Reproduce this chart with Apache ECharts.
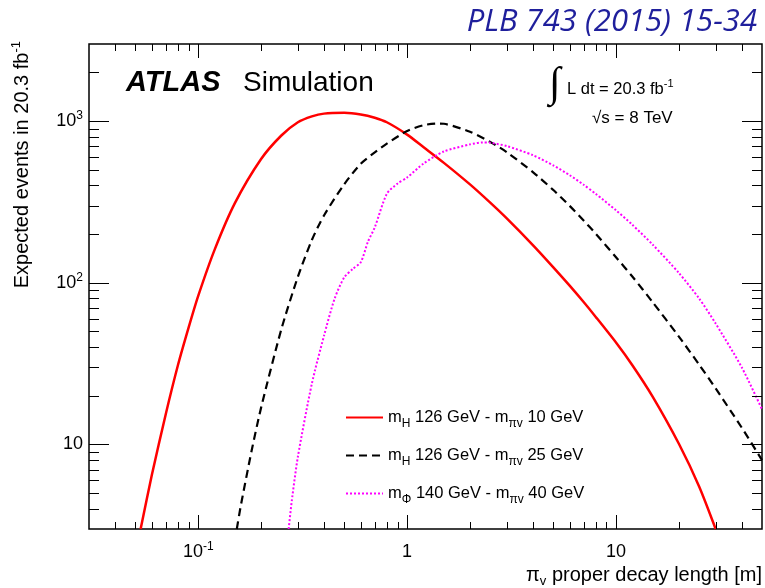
<!DOCTYPE html>
<html>
<head>
<meta charset="utf-8">
<script src="https://cdn.jsdelivr.net/npm/echarts@6/dist/echarts.min.js"></script>
<style>
  html, body { margin: 0; padding: 0; background: #fff; }
  #chart { width: 765px; height: 588px; }
</style>
</head>
<body>
<div id="chart"></div>
<script>
// Expected events vs. proper decay length for the three benchmark samples
const xH10 = [0.053, 0.06, 0.07, 0.08, 0.09, 0.1, 0.12, 0.15, 0.2, 0.25, 0.3, 0.35, 0.4, 0.5, 0.6, 0.7, 0.8, 1.0, 1.2, 1.5, 2, 2.5, 3, 4, 5, 6, 7, 8, 10, 12, 15, 20, 25, 30];
const yH10 = [3, 6.5, 15.5, 31, 53, 83, 161, 312, 583, 815, 984, 1070, 1113, 1125, 1100, 1050, 984, 825, 689, 552, 406, 313, 250, 171, 125, 96, 76, 61.5, 42.7, 30.8, 19.7, 10.1, 5.5, 3];

const xH25 = [0.153, 0.16, 0.18, 0.2, 0.25, 0.3, 0.35, 0.4, 0.5, 0.6, 0.7, 0.8, 1.0, 1.2, 1.4, 1.5, 2, 2.5, 3, 4, 5, 6, 7, 8, 10, 12, 15, 20, 25, 30, 40, 50];
const yH25 = [3, 4.2, 9.1, 16.9, 51.6, 109, 184, 261, 407, 545, 640, 726, 868, 944, 966, 963, 859, 743, 643, 484, 376, 299, 243, 201, 144, 109, 75.7, 46.5, 31.2, 22.2, 12.7, 8.0];

const xPhi40 = [0.271, 0.28, 0.3, 0.35, 0.4, 0.45, 0.5, 0.55, 0.6, 0.65, 0.7, 0.8, 0.9, 1.0, 1.2, 1.5, 2, 2.3, 2.5, 3, 4, 5, 6, 7, 8, 10, 12, 15, 20, 25, 30, 40, 50];
const yPhi40 = [3, 4.4, 8.4, 23.8, 47, 80, 108, 122, 134, 180, 220, 356, 411, 448, 547, 649, 718, 738, 735, 701, 616, 533, 463, 404, 355, 281, 228, 172, 115, 80, 56, 30, 16.5];

const seriesNames = [
  'm{sub|H} 126 GeV - m{sub|πv} 10 GeV',
  'm{sub|H} 126 GeV - m{sub|πv} 25 GeV',
  'm{sub|Φ} 140 GeV - m{sub|πv} 40 GeV'
];

// axis ranges and tick values
const xRange = [0.03, 50];
const yRange = [3, 3000];
const xMajor = [0.1, 1, 10];
const xMajorText = ['10{sup|-1}', '1', '10'];
const yMajor = [10, 100, 1000];
const yMajorText = ['10', '10{sup|2}', '10{sup|3}'];
const xMinor = [0.04, 0.05, 0.06, 0.07, 0.08, 0.09, 0.2, 0.3, 0.4, 0.5, 0.6, 0.7, 0.8, 0.9, 2, 3, 4, 5, 6, 7, 8, 9, 20, 30, 40];
const yMinor = [4, 5, 6, 7, 8, 9, 20, 30, 40, 50, 60, 70, 80, 90, 200, 300, 400, 500, 600, 700, 800, 900, 2000];

const FONT = '"Liberation Sans", Arial, Helvetica, sans-serif';

function zip(xs, ys) { return xs.map((x, i) => [x, ys[i]]); }

function majorLabel(values, texts) {
  return function (v) {
    for (let i = 0; i < values.length; i++) {
      if (Math.abs(v / values[i] - 1) < 1e-6) return texts[i];
    }
    return '';
  };
}

// tick marks on all four sides of the frame: kind 0/1 = x major/minor, 2/3 = y major/minor
const tickData = []
  .concat(xMajor.map(v => [v, yRange[0], 0]))
  .concat(xMinor.map(v => [v, yRange[0], 1]))
  .concat(yMajor.map(v => [xRange[0], v, 2]))
  .concat(yMinor.map(v => [xRange[0], v, 3]));

function renderTick(params, api) {
  const kind = api.value(2);
  const cs = params.coordSys;
  const p = api.coord([api.value(0), api.value(1)]);
  let segs;
  if (kind < 2) {
    const len = kind === 0 ? 14 : 7;
    const x = Math.round(p[0]) + 0.5;
    segs = [[x, cs.y + cs.height, x, cs.y + cs.height - len], [x, cs.y, x, cs.y + len]];
  } else {
    const len = kind === 2 ? 20 : 10;
    const y = Math.round(p[1]) + 0.5;
    segs = [[cs.x, y, cs.x + len, y], [cs.x + cs.width, y, cs.x + cs.width - len, y]];
  }
  return {
    type: 'group',
    children: segs.map(s => ({
      type: 'line',
      shape: { x1: s[0], y1: s[1], x2: s[2], y2: s[3] },
      style: { stroke: '#000', lineWidth: 1 }
    }))
  };
}

const supStyle = { fontSize: 12, fontFamily: FONT, padding: [0, 0, 10, 0], color: '#000' };
const subStyle = { fontSize: 12, fontFamily: FONT, padding: [12, 0, 0, 0], color: '#000' };

const chart = echarts.init(document.getElementById('chart'), null, { renderer: 'canvas' });

chart.setOption({
  animation: false,
  backgroundColor: '#fff',
  grid: {
    left: 89, top: 44, width: 673, height: 485,
    show: true, borderColor: '#000', borderWidth: 1.5, backgroundColor: 'transparent'
  },
  xAxis: {
    type: 'log', logBase: 10, min: xRange[0], max: xRange[1],
    axisLine: { show: false }, axisTick: { show: false }, splitLine: { show: false },
    axisLabel: {
      formatter: majorLabel(xMajor, xMajorText),
      fontSize: 18, fontFamily: FONT, color: '#000', margin: 11, lineHeight: 24,
      showMinLabel: false, showMaxLabel: false,
      rich: { sup: supStyle }
    }
  },
  yAxis: {
    type: 'log', logBase: 10, min: yRange[0], max: yRange[1],
    axisLine: { show: false }, axisTick: { show: false }, splitLine: { show: false },
    axisLabel: {
      formatter: majorLabel(yMajor, yMajorText),
      fontSize: 18, fontFamily: FONT, color: '#000', margin: 6, lineHeight: 24,
      showMinLabel: false, showMaxLabel: false,
      rich: { sup: supStyle }
    }
  },
  legend: {
    data: seriesNames,
    orient: 'vertical', left: 345, top: 409, padding: 0,
    itemWidth: 37, itemHeight: 14, itemGap: 17.5,
    itemStyle: { opacity: 0 },
    textStyle: {
      fontFamily: FONT, fontSize: 16.5, color: '#000',
      rich: { sub: subStyle }
    }
  },
  series: [
    {
      name: seriesNames[0], type: 'line', data: zip(xH10, yH10),
      symbol: 'none', smooth: 0.25, clip: true,
      lineStyle: { color: '#ff0000', width: 2.5, type: 'solid' }, itemStyle: { color: '#ff0000' }
    },
    {
      name: seriesNames[1], type: 'line', data: zip(xH25, yH25),
      symbol: 'none', smooth: 0.25, clip: true,
      lineStyle: { color: '#000000', width: 2.2, type: [8, 5] }, itemStyle: { color: '#000000' }
    },
    {
      name: seriesNames[2], type: 'line', data: zip(xPhi40, yPhi40),
      symbol: 'none', smooth: 0.25, clip: true,
      lineStyle: { color: '#ff00ff', width: 2, type: [2, 2] }, itemStyle: { color: '#ff00ff' }
    },
    {
      type: 'custom', data: tickData, renderItem: renderTick,
      silent: true, z: 5, clip: false
    }
  ],
  graphic: [
    {
      type: 'text', x: 757, y: 22,
      style: { text: 'PLB 743 (2015) 15-34', fontFamily: '"Open Sans", sans-serif', fontStyle: 'italic', fontSize: 31, fill: '#1f1f9c', align: 'right', verticalAlign: 'middle' }
    },
    {
      type: 'text', x: 126, y: 83,
      style: { text: 'ATLAS', fontFamily: FONT, fontStyle: 'italic', fontWeight: 'bold', fontSize: 29, fill: '#000', align: 'left', verticalAlign: 'middle' }
    },
    {
      type: 'text', x: 243, y: 83,
      style: { text: 'Simulation', fontFamily: FONT, fontSize: 28, fill: '#000', align: 'left', verticalAlign: 'middle' }
    },
    {
      type: 'text', x: 549, y: 85,
      style: { text: '∫', fontFamily: '"Liberation Serif", serif', fontSize: 42, fill: '#000', align: 'left', verticalAlign: 'middle' }
    },
    {
      type: 'text', x: 567, y: 89,
      style: { text: 'L dt = 20.3 fb{sup|-1}', fontFamily: FONT, fontSize: 16.5, fill: '#000', align: 'left', verticalAlign: 'middle',
        rich: { sup: { fontSize: 11, fontFamily: FONT, padding: [0, 0, 10, 0] } } }
    },
    {
      type: 'text', x: 592, y: 118,
      style: { text: '√s = 8 TeV', fontFamily: FONT, fontSize: 17, fill: '#000', align: 'left', verticalAlign: 'middle' }
    },
    {
      type: 'text', x: 22, y: 41, rotation: Math.PI / 2,
      style: { text: 'Expected events in 20.3 fb{sup|-1}', fontFamily: FONT, fontSize: 20, fill: '#000', align: 'right', verticalAlign: 'middle',
        rich: { sup: { fontSize: 13, fontFamily: FONT, padding: [0, 0, 12, 0] } } }
    },
    {
      type: 'text', x: 762, y: 575,
      style: { text: 'π{sub|v} proper decay length [m]', fontFamily: FONT, fontSize: 20, fill: '#000', align: 'right', verticalAlign: 'middle',
        rich: { sub: { fontSize: 13, fontFamily: FONT, padding: [12, 0, 0, 0] } } }
    }
  ]
});
</script>
</body>
</html>
